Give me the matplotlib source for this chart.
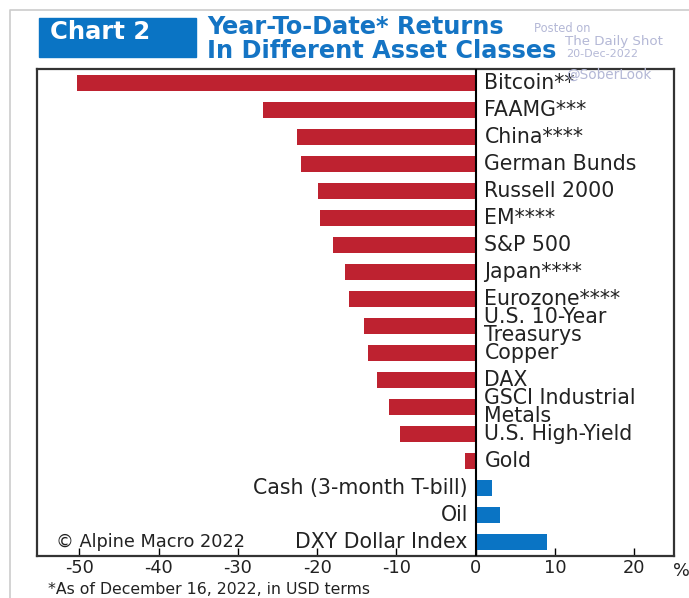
import matplotlib.pyplot as plt
from matplotlib.patches import Rectangle

plt.rcParams['font.family'] = 'DejaVu Sans'
plt.rcParams['axes.unicode_minus'] = False

# YTD returns, %
assets = ['Bitcoin**', 'FAAMG***', 'China****', 'German Bunds', 'Russell 2000',
          'EM****', 'S&P 500', 'Japan****', 'Eurozone****', 'U.S. 10-Year\nTreasurys',
          'Copper', 'DAX', 'GSCI Industrial\nMetals', 'U.S. High-Yield', 'Gold',
          'Cash (3-month T-bill)', 'Oil', 'DXY Dollar Index']
returns = [-50.3, -26.8, -22.5, -22.0, -19.9, -19.6, -18.0, -16.5, -16.0, -14.1,
           -13.6, -12.5, -11.0, -9.6, -1.3, 2.0, 3.0, 9.0]
xticks = [-50, -40, -30, -20, -10, 0, 10, 20]

red = '#BE2230'
blue = '#0A74C4'
txt = '#222222'

fig = plt.figure(figsize=(6.89, 5.98), dpi=100)
ax = fig.add_axes([0.0541, 0.0702, 0.9241, 0.8144])

ypos = list(range(len(assets)))
colors = [red if v < 0 else blue for v in returns]
ax.barh(ypos, returns, height=0.59, color=colors, zorder=2)
ax.axvline(0, color='black', lw=1.5, zorder=3)

for y, name, v in zip(ypos, assets, returns):
    if v < 0:
        ax.text(1.1, y, name, ha='left', va='center', fontsize=14.8,
                color=txt, linespacing=0.85)
    else:
        ax.text(-1.0, y, name, ha='right', va='center', fontsize=14.8,
                color=txt, linespacing=0.85)

ax.set_xlim(-55.3, 25.0)
ax.set_ylim(len(assets) - 0.48, -0.52)
ax.set_yticks([])
ax.set_xticks(xticks)
ax.set_xticklabels([str(t) for t in xticks])
ax.tick_params(axis='x', direction='in', length=6, width=1, labelsize=12.8,
               labelcolor=txt, pad=2)
for s in ax.spines.values():
    s.set_linewidth(1.6)
    s.set_color('#333333')

ax.text(-53.0, 17, '\u00a9 Alpine Macro 2022', fontsize=12.8, color=txt,
        ha='left', va='center')

# header
fig.patches.append(Rectangle((39 / 689, 1 - 56.7 / 598), 156.7 / 689, 38.4 / 598,
                             transform=fig.transFigure, color=blue))
fig.text(50 / 689, 1 - 32 / 598, 'Chart 2', color='white', fontsize=17.5,
         fontweight='bold', ha='left', va='center')
fig.text(207 / 689, 1 - 27 / 598, 'Year-To-Date* Returns', color='#1474C4',
         fontsize=17.3, fontweight='bold', ha='left', va='center')
fig.text(207 / 689, 1 - 51 / 598, 'In Different Asset Classes', color='#1474C4',
         fontsize=17.3, fontweight='bold', ha='left', va='center')
wm = '#B4B8D6'
fig.text(534 / 689, 1 - 29 / 598, 'Posted on', color=wm, fontsize=8.3,
         ha='left', va='center')
fig.text(565 / 689, 1 - 41 / 598, 'The Daily Shot', color=wm, fontsize=9.6,
         ha='left', va='center')
fig.text(566 / 689, 1 - 54 / 598, '20-Dec-2022', color=wm, fontsize=8,
         ha='left', va='center')
fig.text(566 / 689, 1 - 75 / 598, '@SoberLook', color=wm, fontsize=9.8,
         ha='left', va='center')

fig.text(681 / 689, 1 - 571 / 598, '%', color=txt, fontsize=12.8,
         ha='center', va='center')
fig.text(48 / 689, 1.5 / 598, '*As of December 16, 2022, in USD terms',
         color=txt, fontsize=11.3, ha='left', va='bottom')

# outer frame
fig.lines.append(plt.Line2D([9.5 / 689, 9.5 / 689, 1.0], [0, 1 - 10 / 598, 1 - 10 / 598],
                            transform=fig.transFigure, color='#CCCCCC', lw=1.2))

fig.savefig('out.png', dpi=100)
